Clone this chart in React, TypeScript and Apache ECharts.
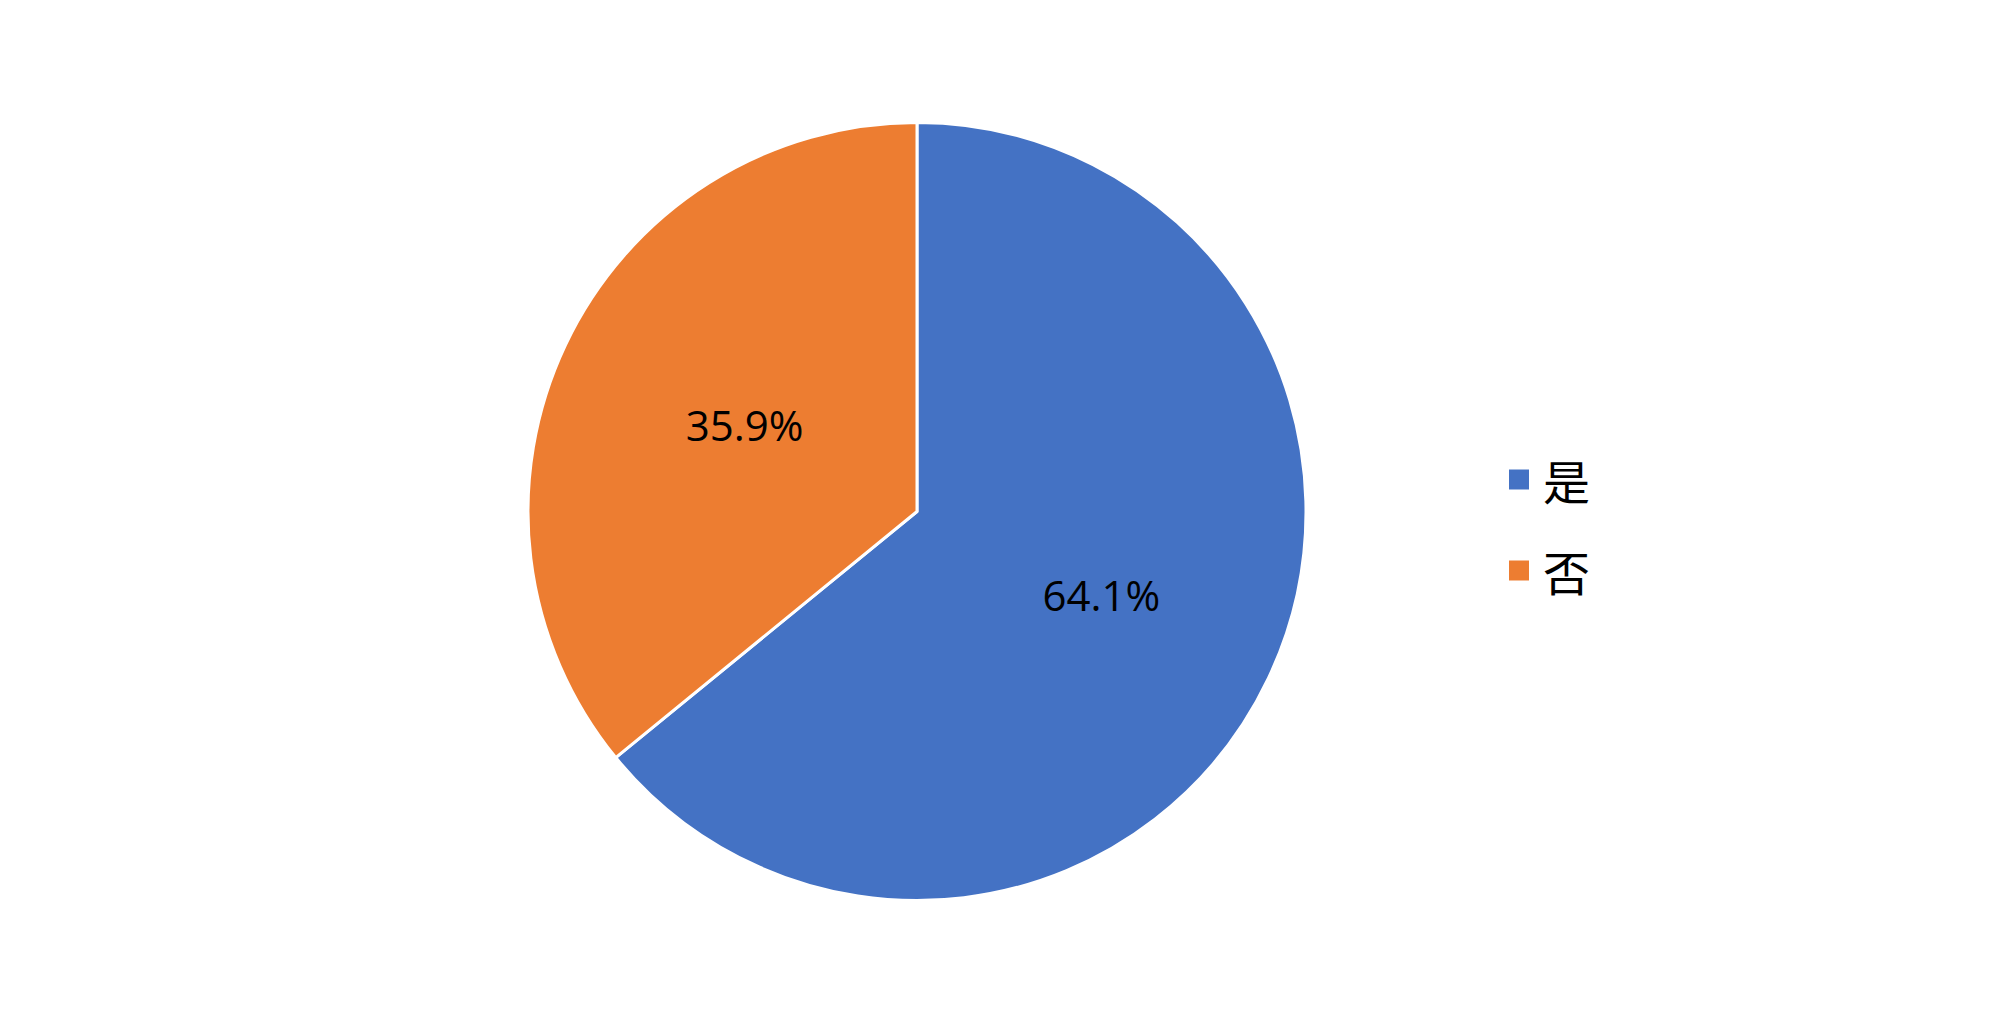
import React, { useEffect, useRef } from "react";
import * as echarts from "echarts";

const categories = ["是", "否"];
const values = [64.1, 35.9];
const colors = ["#4472C4", "#ED7D31"];

export default function App() {
  const ref = useRef<HTMLDivElement>(null);
  useEffect(() => {
    if (!ref.current) return;
    const chart = echarts.init(ref.current, undefined, { renderer: "svg" });
    chart.setOption({
      animation: false,
      backgroundColor: "#ffffff",
      color: colors,
      legend: {
        orient: "vertical",
        left: 1502,
        top: 451,
        itemWidth: 22,
        itemHeight: 22,
        itemGap: 44,
        icon: "rect",
        data: categories,
        textStyle: {
          fontFamily: "Noto Sans CJK SC",
          fontSize: 47,
          lineHeight: 44,
          color: "#000000",
          padding: [0, 0, 0, 8],
        },
      },
      series: [
        {
          type: "pie",
          center: [917, 511.5],
          radius: [0, 389],
          startAngle: 90,
          clockwise: true,
          label: {
            show: true,
            position: "inside",
            formatter: (p: any) => p.value.toFixed(1) + "%",
            fontFamily: "Open Sans",
            fontSize: 42,
            color: "#000000",
            offset: [6, -2],
          },
          labelLine: { show: false },
          itemStyle: { borderColor: "#ffffff", borderWidth: 3 },
          emphasis: { disabled: true },
          data: categories.map((c, i) => ({ name: c, value: values[i] })),
        },
      ],
    });
    return () => chart.dispose();
  }, []);
  return (
    <div
      ref={ref}
      style={{ position: "fixed", left: 0, top: 0, width: 2000, height: 1028 }}
    />
  );
}
